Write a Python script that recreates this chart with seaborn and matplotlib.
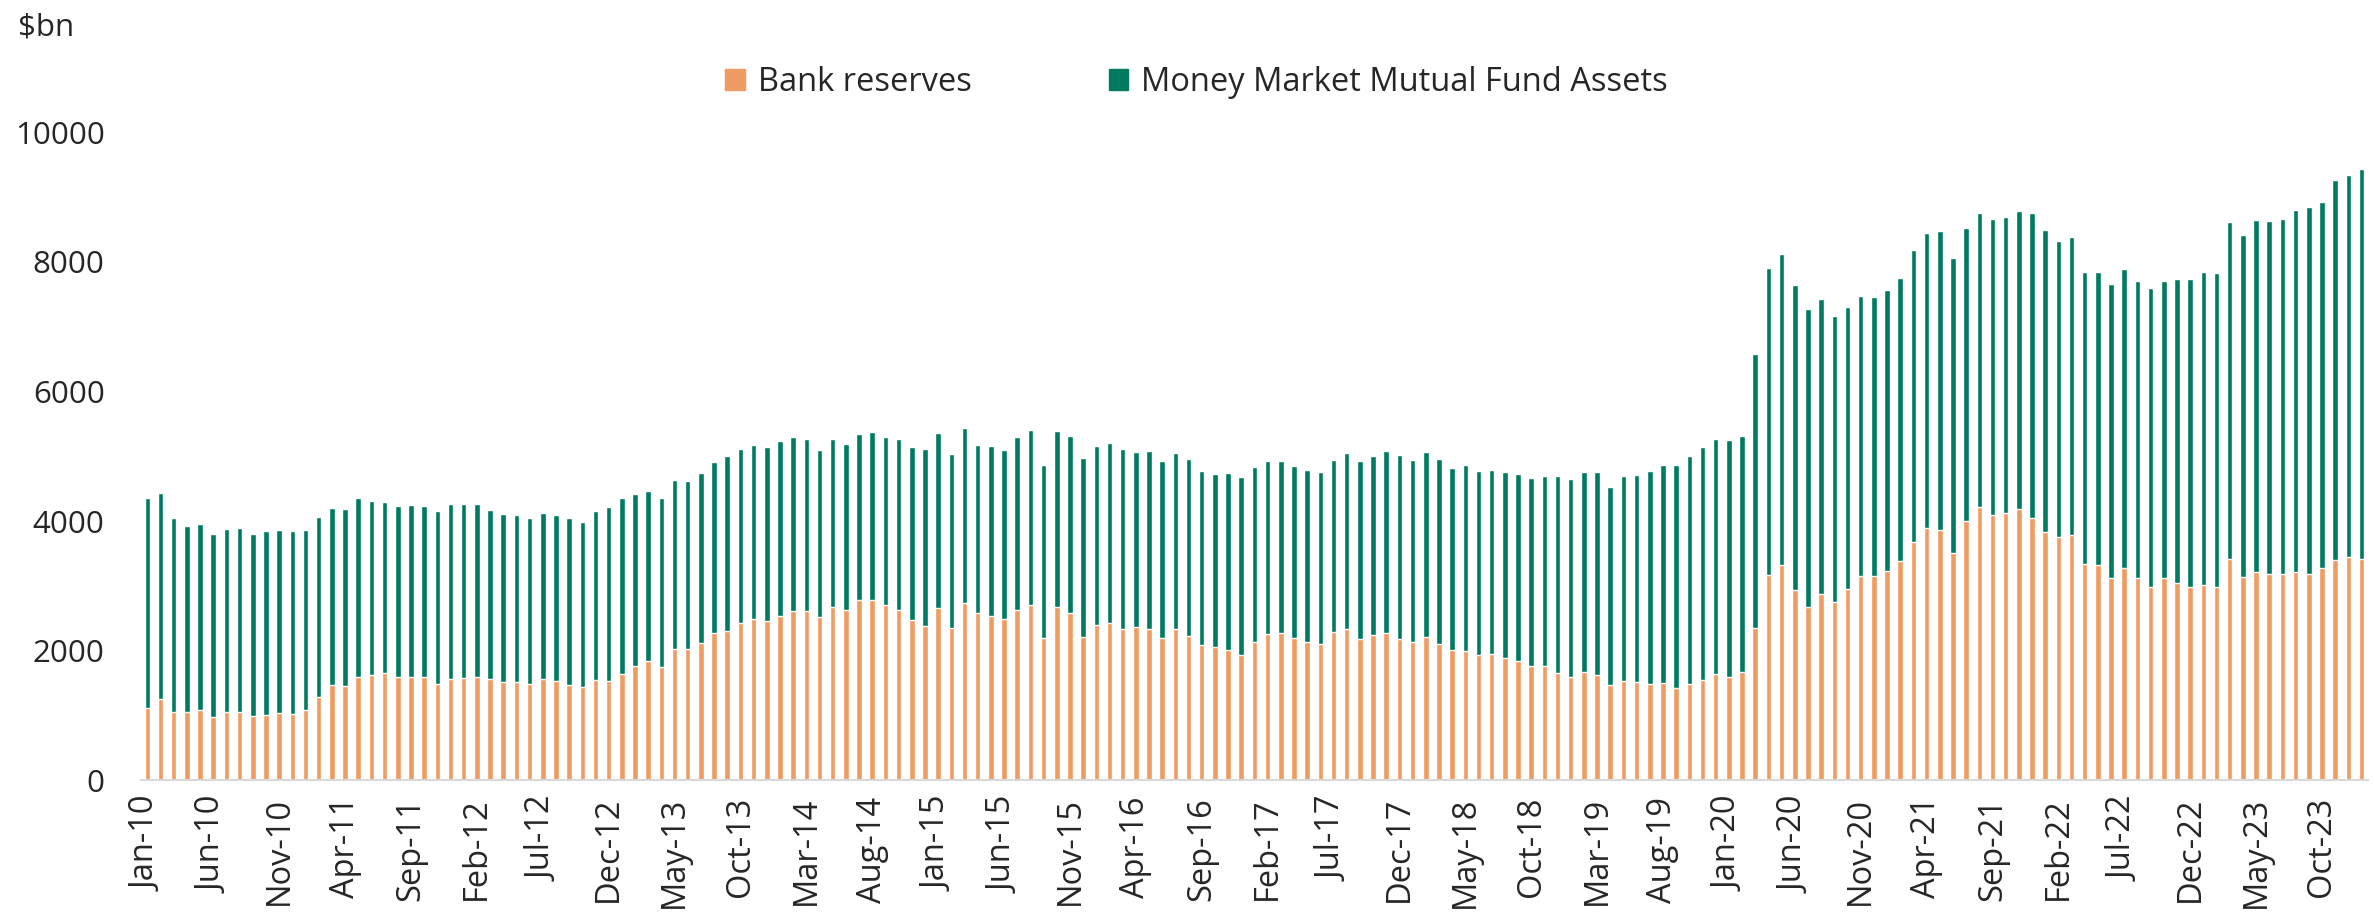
import numpy as np
import pandas as pd
import matplotlib
matplotlib.use("Agg")
import matplotlib.pyplot as plt
from matplotlib.patches import Patch
import seaborn as sns

# monthly, Jan-10 .. Jan-24
months = pd.date_range("2010-01-01", periods=169, freq="MS").strftime("%b-%y").tolist()

# $bn
reserves = [
    1110, 1250, 1060, 1050, 1090, 970, 1050, 1050, 990, 1010, 1030, 1020,
    1080, 1290, 1470, 1460, 1590, 1620, 1650, 1590, 1600, 1590, 1490, 1570,
    1580, 1600, 1560, 1520, 1520, 1490, 1570, 1530, 1470, 1440, 1540, 1530,
    1640, 1760, 1840, 1750, 2020, 2020, 2120, 2270, 2300, 2430, 2490, 2450,
    2530, 2610, 2610, 2520, 2670, 2630, 2780, 2780, 2700, 2630, 2480, 2380,
    2660, 2350, 2740, 2580, 2540, 2490, 2630, 2700, 2190, 2670, 2580, 2210,
    2400, 2430, 2340, 2360, 2340, 2200, 2340, 2230, 2090, 2060, 2010, 1940,
    2140, 2250, 2270, 2200, 2130, 2110, 2290, 2340, 2180, 2240, 2270, 2180,
    2140, 2210, 2110, 2010, 2000, 1940, 1950, 1880, 1840, 1770, 1760, 1660,
    1600, 1670, 1630, 1470, 1530, 1510, 1490, 1500, 1420, 1480, 1550, 1640,
    1600, 1670, 2350, 3170, 3320, 2940, 2680, 2880, 2750, 2950, 3150, 3150,
    3230, 3390, 3680, 3900, 3860, 3510, 4000, 4210, 4100, 4130, 4180, 4040,
    3830, 3750, 3780, 3330, 3320, 3120, 3280, 3120, 2990, 3120, 3050, 2990,
    3010, 2990, 3410, 3140, 3220, 3190, 3180, 3210, 3180, 3270, 3400, 3450,
    3420,
]
mmf_assets = [
    3240, 3180, 2990, 2880, 2860, 2830, 2820, 2850, 2810, 2830, 2830, 2820,
    2780, 2770, 2730, 2730, 2760, 2690, 2650, 2650, 2650, 2640, 2660, 2700,
    2690, 2670, 2610, 2590, 2580, 2550, 2560, 2570, 2580, 2550, 2620, 2680,
    2710, 2660, 2620, 2600, 2620, 2600, 2620, 2640, 2700, 2680, 2680, 2700,
    2710, 2690, 2650, 2570, 2600, 2560, 2560, 2600, 2600, 2630, 2660, 2730,
    2700, 2690, 2690, 2590, 2620, 2610, 2660, 2700, 2680, 2720, 2730, 2770,
    2760, 2780, 2770, 2710, 2740, 2730, 2710, 2730, 2680, 2660, 2730, 2740,
    2690, 2680, 2660, 2650, 2660, 2640, 2650, 2710, 2750, 2760, 2810, 2840,
    2810, 2850, 2850, 2810, 2860, 2830, 2840, 2870, 2890, 2890, 2940, 3040,
    3050, 3090, 3120, 3060, 3160, 3200, 3280, 3370, 3450, 3520, 3590, 3620,
    3650, 3650, 4230, 4740, 4800, 4700, 4590, 4550, 4410, 4360, 4330, 4310,
    4340, 4360, 4500, 4540, 4620, 4550, 4520, 4540, 4560, 4570, 4610, 4720,
    4660, 4570, 4600, 4520, 4530, 4540, 4610, 4580, 4600, 4590, 4680, 4740,
    4830, 4840, 5210, 5280, 5430, 5440, 5490, 5590, 5660, 5650, 5860, 5890,
    6020,
]

sns.set_style("white")
plt.rcParams["font.family"] = ["Open Sans", "DejaVu Sans"]

orange = "#EE9C62"
green = "#007A61"

df = pd.DataFrame({"month": months, "reserves": reserves, "mmf": mmf_assets})
df["total"] = df["reserves"] + df["mmf"]

fig = plt.figure(figsize=(23.74, 9.19), dpi=100)
ax = fig.add_axes([0.0593, 0.151, 0.9382, 0.705])

# stacked look: full height in green, reserves drawn over it
sns.barplot(data=df, x="month", y="total", color=green, width=0.42,
            saturation=1, errorbar=None, ax=ax)
sns.barplot(data=df, x="month", y="reserves", color=orange, width=0.42,
            saturation=1, errorbar=None, ax=ax)

ax.set_xlim(-0.5, len(months) - 0.5)
ax.set_ylim(0, 10000)
ax.set_xlabel("")
ax.set_ylabel("")

ax.set_yticks(range(0, 10001, 2000))
ax.set_yticklabels([str(v) for v in range(0, 10001, 2000)], fontsize=22.5)
ax.tick_params(axis="y", length=0, pad=26)

pos = np.arange(0, len(months), 5)
ax.set_xticks(pos)
ax.set_xticklabels([months[i] for i in pos], rotation=90, fontsize=23.5)
ax.set_xticks(pos - 0.5, minor=True)
ax.tick_params(axis="x", which="major", length=0, pad=12)
ax.tick_params(axis="x", which="minor", length=9.5, width=1.5, color="#D9D9D9")

sns.despine(ax=ax, left=True)
ax.spines["bottom"].set_color("#D9D9D9")
ax.spines["bottom"].set_linewidth(1.5)

handles = [Patch(color=orange, label="Bank reserves"),
           Patch(color=green, label="Money Market Mutual Fund Assets")]
fig.legend(handles=handles, loc="center", bbox_to_anchor=(0.504, 0.91), ncol=2,
           frameon=False, fontsize=23.5, handlelength=0.6, handleheight=0.6,
           handletextpad=0.4, columnspacing=4.2)

fig.text(18 / 2374, 1 - 28 / 919, "$bn", fontsize=22.5, ha="left", va="center")

fig.savefig("out.png", dpi=100)
